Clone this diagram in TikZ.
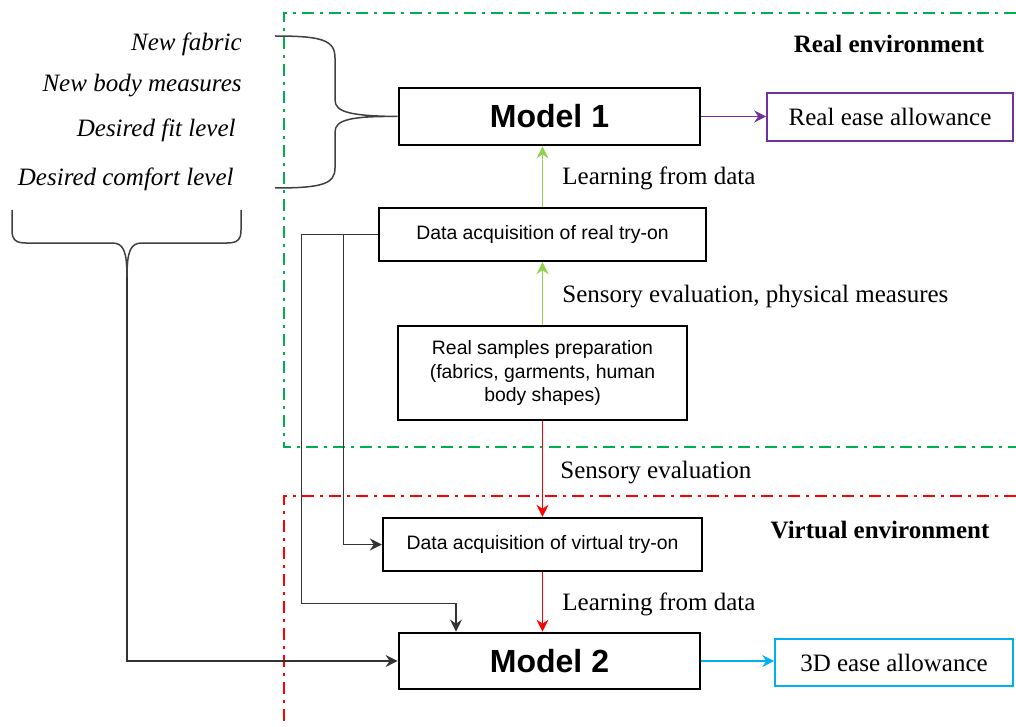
\documentclass[tikz,border=0pt]{standalone}
\usepackage{fontspec}
\setmainfont{Liberation Serif}
\setsansfont{Liberation Sans}
\definecolor{realgreen}{HTML}{00B050}
\definecolor{learngreen}{HTML}{92D050}
\definecolor{virtred}{HTML}{FF0000}
\definecolor{easepurple}{HTML}{7030A0}
\definecolor{easecyan}{HTML}{00B0F0}
\usetikzlibrary{arrows.meta, positioning, calc}

\begin{document}
\begin{tikzpicture}[x=0.5pt, y=-0.5pt,
  stepbox/.style={draw, line width=1.2pt, font=\sffamily\fontsize{9.7}{11.8}\selectfont, align=center, inner sep=0pt},
  modelbox/.style={draw, line width=1.4pt, font=\sffamily\bfseries\fontsize{16}{19}\selectfont, minimum width=150.5pt, minimum height=28.5pt},
  outbox/.style={draw, line width=0.8pt, font=\fontsize{12.5}{15}\selectfont, inner sep=0pt},
  lbl/.style={font=\fontsize{12.5}{15}\selectfont, anchor=west, inner sep=0pt},
  envlbl/.style={font=\bfseries\fontsize{12.5}{15}\selectfont},
  inlbl/.style={font=\itshape\fontsize{12.5}{15}\selectfont, anchor=east, inner sep=0pt},
  envline/.style={line width=1.2pt, dash pattern=on 6pt off 3pt on 1.5pt off 3pt},
  link/.style={-{Stealth[length=6pt, width=6pt, inset=2pt]}, line width=0.6pt},
  bracket/.style={line width=0.75pt, black!75},
]
  \useasboundingbox (0,0) rectangle (1016,727);

  \draw[envline, realgreen] (1016,13) -- (284,13) -- (284,447) -- (1016,447);
  \draw[envline, virtred] (1016,496) -- (284,496) -- (284,727);
  \node[envlbl] (realenv) at (889,44) {Real environment};
  \node[envlbl] (virtenv) at (880,530) {Virtual environment};

  \node[inlbl] (fabric) at (242,44) {New fabric};
  \node[inlbl] (body) at (242,86) {New body measures};
  \node[inlbl] (fit) at (236,130) {Desired fit level};
  \node[inlbl] (comfort) at (234,179) {Desired comfort level};

  \node[modelbox] (model1) at (549.5,116.5) {Model 1};
  \node[outbox, easepurple, minimum width=123pt, minimum height=24pt, text=black] (realease) at (890,117) {Real ease allowance};
  \node[stepbox, minimum width=163.5pt, minimum height=26.5pt] (dareal) at (542.5,234.5) {Data acquisition of real try-on};
  \node[stepbox, minimum width=144.5pt, minimum height=47pt] (samples) at (542.5,373) {Real samples preparation\\(fabrics, garments, human\\body shapes)};
  \node[stepbox, minimum width=159.5pt, minimum height=26.5pt] (davirt) at (542.5,544.5) {Data acquisition of virtual try-on};
  \node[modelbox, minimum height=28pt] (model2) at (549.5,661) {Model 2};
  \node[outbox, easecyan, minimum width=119pt, minimum height=23.5pt, text=black] (easethree) at (894,662.5) {3D ease allowance};

  \draw[link, easepurple] (model1.east) -- (model1.east -| realease.west);
  \draw[link, easecyan] (model2.east) -- (model2.east -| easethree.west);
  \draw[link, learngreen] (dareal.north) -- (dareal.north |- model1.south);
  \draw[link, learngreen] (samples.north) -- (dareal.south);
  \draw[link, virtred] (samples.south) -- (davirt.north);
  \draw[link, virtred] (davirt.south) -- (davirt.south |- model2.north);

  \node[lbl] (learn1) at (562,178) {Learning from data};
  \node[lbl] (sense1) at (562,297) {Sensory evaluation, physical measures};
  \node[lbl] (sense2) at (560,473) {Sensory evaluation};
  \node[lbl] (learn2) at (562,604) {Learning from data};

  \draw[link, black!80] (dareal.west) -- ++(-76,0) |- ([xshift=-46.75pt, yshift=14pt]model2.north) -- ([xshift=-46.75pt]model2.north);
  \draw[link, black!80] (dareal.west) ++(-34,0) |- (davirt.west);

  \draw[bracket] (275,36) .. controls (322,36) and (335,40) .. (335,58) -- (335,100)
    .. controls (335,112) and (350,116) .. (model1.west)
    .. controls (350,116) and (335,120) .. (335,132) -- (335,168)
    .. controls (335,184) and (322,188) .. (275,188);

  \coordinate (tip) at (127,277);
  \draw[bracket] (12,210) -- (12,230) .. controls (12,240) and (16,243) .. (26,243) -- (112,243)
    .. controls (123,243) and (127,250) .. (tip)
    .. controls (127,250) and (131,243) .. (142,243) -- (227,243)
    .. controls (237,243) and (241,240) .. (241,230) -- (241,210);
  \draw[link, black!80] (tip) |- (model2.west);
\end{tikzpicture}
\end{document}
